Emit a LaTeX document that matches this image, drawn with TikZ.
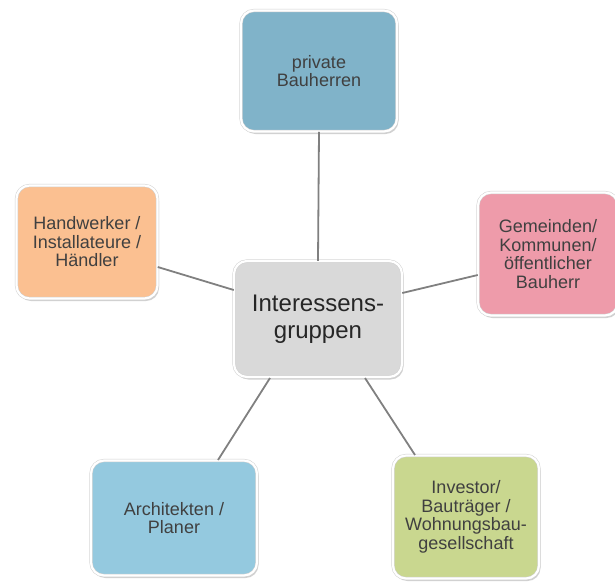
\documentclass[tikz,border=0pt]{standalone}
\usepackage{fontspec}
\setmainfont{Liberation Sans}
\usetikzlibrary{shadows}
\definecolor{cTop}{HTML}{80B3C9}
\definecolor{cMid}{HTML}{D9D9D9}
\definecolor{cLeft}{HTML}{FBC091}
\definecolor{cRight}{HTML}{EE9BAA}
\definecolor{cBL}{HTML}{94C9DF}
\definecolor{cBR}{HTML}{C9D78F}
\definecolor{txt}{HTML}{404040}
\definecolor{edge}{HTML}{808080}
\begin{document}
\begin{tikzpicture}[x=1pt,y=-1pt,
  box/.style={rectangle, rounded corners=13pt, draw=black!18, double=white, double distance=2.2pt, line width=0.5pt,
    drop shadow={shadow xshift=1.5pt, shadow yshift=-2.5pt, opacity=0.3, fill=black!60},
    align=center, text=txt, inner sep=0pt, font=\fontsize{18}{18.5}\selectfont},
  conn/.style={draw=edge, line width=1.8pt}]
\useasboundingbox (0,0) rectangle (615,582);
\node[box, fill=cTop, minimum width=156pt, minimum height=121pt] (top) at (319,71) {private\\Bauherren};
\node[box, fill=cMid, minimum width=168pt, minimum height=116pt, text=black!85, font=\fontsize{24}{27}\selectfont] (mid) at (318,319) {Interessens-\\gruppen};
\node[box, fill=cLeft, minimum width=141pt, minimum height=113pt] (left) at (87,242) {Handwerker /\\Installateure /\\Händler};
\node[box, fill=cRight, minimum width=140pt, minimum height=123pt] (right) at (548,254) {Gemeinden/\\Kommunen/\\öffentlicher\\Bauherr};
\node[box, fill=cBL, minimum width=166pt, minimum height=115pt] (bl) at (174,518) {Architekten /\\Planer};
\node[box, fill=cBR, minimum width=146pt, minimum height=123pt] (br) at (466,517) {Investor/\\Bauträger /\\Wohnungsbau-\\gesellschaft};
\draw[conn] (mid.north) -- (top.south);
\draw[conn] (mid.west |- 0,290) -- (left.east |- 0,267);
\draw[conn] (mid.east |- 0,293) -- (right.west |- 0,275);
\draw[conn] (270,378) coordinate (a) -- (218,460) coordinate (b);
\draw[conn] (365,378) coordinate (c) -- (415,455) coordinate (d);
\end{tikzpicture}
\end{document}
